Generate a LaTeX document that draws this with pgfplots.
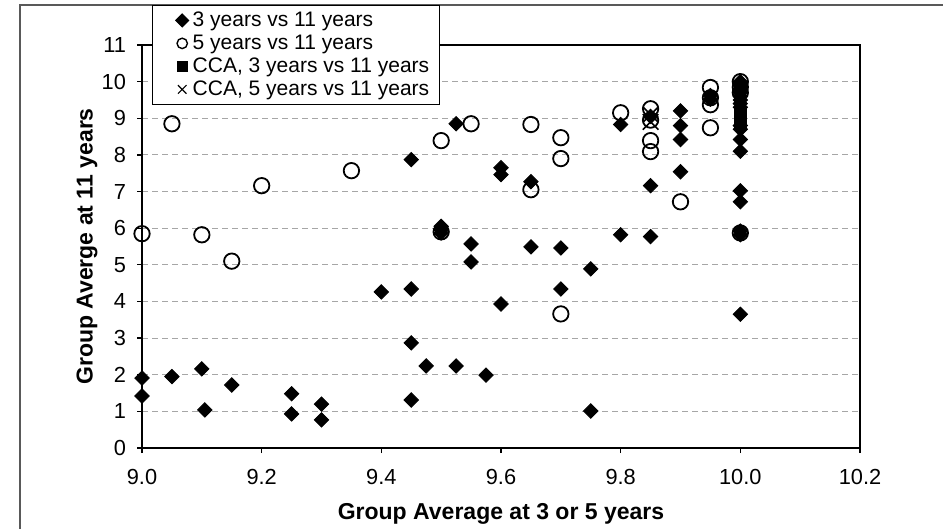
\documentclass[border=0pt]{standalone}
\usepackage{fontspec}
\setmainfont{Liberation Sans}
\usepackage{pgfplots}
\pgfplotsset{compat=1.18}

% 3 years vs 11 years
\pgfplotstableread{
x y
9.0 1.91
9.0 1.42
9.05 1.95
9.1 2.16
9.105 1.04
9.15 1.72
9.25 1.48
9.25 0.93
9.3 1.2
9.3 0.77
9.4 4.26
9.45 4.34
9.45 2.87
9.45 1.31
9.475 2.24
9.45 7.87
9.525 2.24
9.5 6.05
9.5 5.95
9.5 5.87
9.525 8.85
9.55 5.57
9.55 5.08
9.575 1.99
9.6 7.65
9.6 7.46
9.6 3.93
9.65 7.27
9.65 5.49
9.7 5.46
9.7 4.34
9.75 4.89
9.75 1.01
9.8 8.83
9.8 5.82
9.85 7.16
9.85 5.77
9.85 9.05
9.9 9.2
9.9 8.8
9.9 8.42
9.9 7.54
9.95 9.62
9.95 9.52
10.0 10.0
10.0 9.9
10.0 9.8
10.0 9.7
10.0 9.6
10.0 9.5
10.0 9.4
10.0 9.3
10.0 8.8
10.0 8.7
10.0 8.42
10.0 8.1
10.0 7.02
10.0 6.72
10.0 5.92
10.0 5.82
10.0 3.65
}\threeyrs

% 5 years vs 11 years
\pgfplotstableread{
x y
9.0 5.85
9.05 8.85
9.1 5.82
9.15 5.1
9.2 7.16
9.35 7.57
9.5 8.39
9.5 5.9
9.55 8.85
9.65 8.83
9.65 7.05
9.7 8.47
9.7 7.9
9.7 3.66
9.8 9.15
9.85 9.26
9.85 8.95
9.85 8.39
9.85 8.09
9.9 6.72
9.95 9.84
9.95 9.56
9.95 9.37
9.95 8.74
10.0 10.0
10.0 9.85
10.0 9.7
10.0 5.87
}\fiveyrs

\begin{document}
\begin{tikzpicture}
\useasboundingbox (0pt,0pt) rectangle (471.5pt,-264.5pt);
\draw[black!65, line width=0.6pt] (10pt,-264.5pt) -- (10pt,-2.5pt) -- (471.5pt,-2.5pt);
\begin{axis}[
  at={(71pt,-224pt)}, anchor=south west,
  scale only axis, width=359pt, height=201.5pt,
  xmin=9.0, xmax=10.2, ymin=0, ymax=11,
  xtick={9,9.2,9.4,9.6,9.8,10,10.2},
  ytick={0,1,2,3,4,5,6,7,8,9,10,11},
  xtick pos=bottom, ytick pos=left,
  tick align=outside, major tick length=2.5pt,
  tick style={black, line width=0.6pt},
  axis line style={black, line width=0.8pt},
  ymajorgrids,
  major grid style={gray!70, line width=0.5pt, dash pattern=on 3pt off 2pt},
  /pgf/number format/assume math mode=true,
  xticklabel={\pgfmathprintnumber[fixed,fixed zerofill,precision=1]{\tick}},
  tick label style={font=\fontsize{10.9}{12}\selectfont},
  xticklabel style={yshift=-4.5pt},
  yticklabel style={xshift=-2pt},
  xlabel={Group Average at 3 or 5 years},
  ylabel={Group Averge at 11 years},
  label style={font=\fontsize{11.5}{13}\selectfont\bfseries},
  xlabel style={at={(0.5,-0.164)}, anchor=center},
  ylabel style={at={(-0.0766,0.5)}, anchor=center, rotate=0},
  legend style={at={(0.014,1.099)}, anchor=north west, draw=black, line width=0.5pt,
    font=\fontsize{10.5}{11.6}\selectfont, inner xsep=3pt, inner ysep=1pt,
    row sep=-1.3pt, legend cell align=left, fill=white},
  clip=false,
]
\addplot[only marks, mark=square*, mark size=2.55pt, mark options={rotate=45, fill=black, draw=black},
  legend image code/.code={\path (0cm,0cm); \draw[mark=square*, mark size=2.3pt, mark options={rotate=45}] plot coordinates {(0.4cm,0cm)};}]
  table {\threeyrs};
\addlegendentry{3 years vs 11 years}
\addplot[only marks, mark=o, mark size=3.85pt, line width=0.9pt, black,
  legend image code/.code={\path (0cm,0cm); \draw[mark=o, mark size=2.6pt, line width=0.7pt] plot coordinates {(0.4cm,0cm)};}]
  table {\fiveyrs};
\addlegendentry{5 years vs 11 years}
\addplot[only marks, mark=square*, mark size=3.1pt, black,
  legend image code/.code={\path (0cm,0cm); \draw[mark=square*, mark size=2.5pt] plot coordinates {(0.4cm,0cm)};}]
  coordinates {(10.0,9.15) (10.0,9.05) (10.0,8.9)};
\addlegendentry{CCA, 3 years vs 11 years}
\addplot[only marks, mark=x, mark size=5.5pt, line width=0.8pt, black,
  legend image code/.code={\path (0cm,0cm); \draw[mark=x, mark size=3pt, line width=0.6pt] plot coordinates {(0.4cm,0cm)};}]
  coordinates {(9.85,9.1) (9.85,8.9)};
\addlegendentry{CCA, 5 years vs 11 years}
\end{axis}
\end{tikzpicture}
\end{document}
